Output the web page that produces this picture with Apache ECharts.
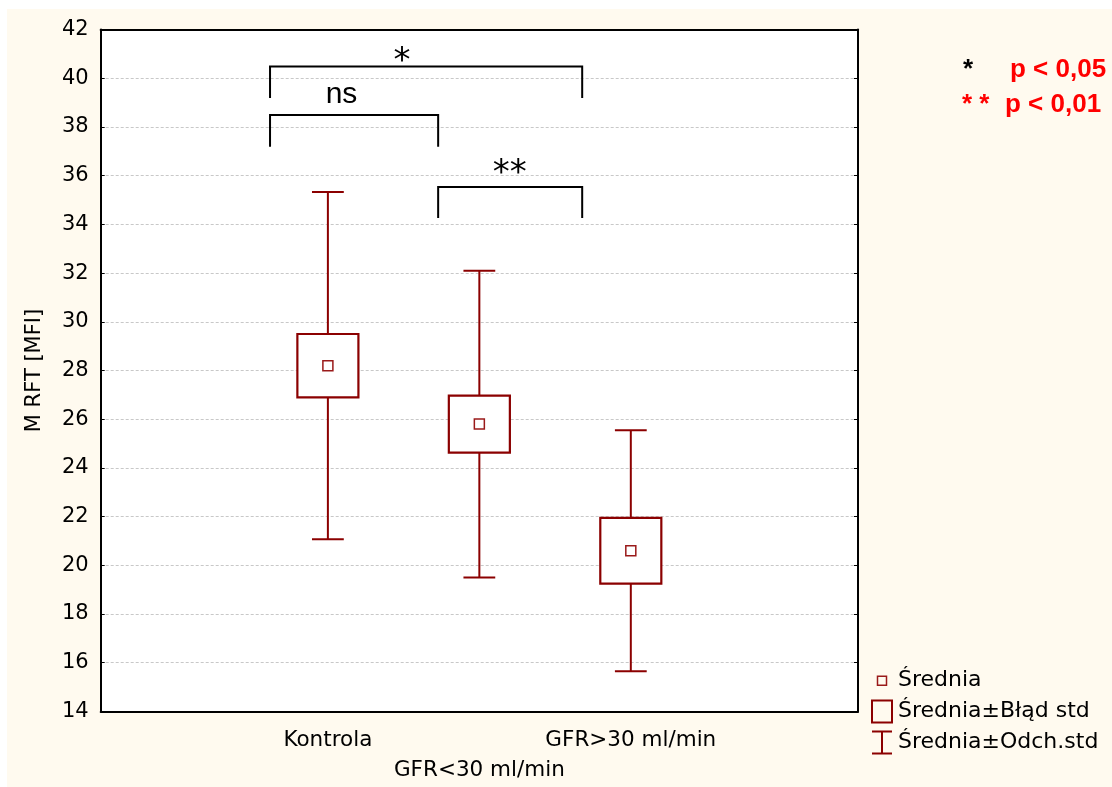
<!DOCTYPE html>
<html>
<head>
<meta charset="utf-8">
<script src="https://cdn.jsdelivr.net/npm/echarts@6/dist/echarts.min.js"></script>
<style>
  html, body { margin: 0; padding: 0; background: #ffffff; }
  #chart { position: absolute; left: 7px; top: 9px; width: 1105px; height: 778px; }
</style>
</head>
<body>
<div id="chart"></div>
<script>
// Groups on the category axis (empty slots pad both ends of the axis)
const categories = ['', 'Kontrola', 'GFR<30 ml/min', 'GFR>30 ml/min', ''];
const groupIndex = [1, 2, 3];

// M RFT [MFI]: mean, standard error and standard deviation per group
const means = [28.2, 25.8, 20.6];
const stdErrors = [1.3, 1.17, 1.35];
const stdDevs = [7.13, 6.3, 4.95];

// Value axis range and step
const yMin = 14;
const yMax = 42;
const yStep = 2;

// Significance brackets (x in category units, y in MFI)
const sigLabels = ['*', 'ns', '**'];
const sigFrom = [0.618, 0.618, 1.728];
const sigTo = [2.679, 1.728, 2.679];
const sigTop = [40.48, 38.49, 35.54];
const sigFoot = [39.19, 37.19, 34.26];
const sigLabelX = [1.49, 1.09, 2.2];
const sigLabelY = [40.67, 39.31, 36.05];

// Legend entries
const legendNames = ['Średnia', 'Średnia±Błąd std', 'Średnia±Odch.std'];

const RED = '#8b0000';
const FONT = '"DejaVu Sans", sans-serif';
const BOLD = 'bold 26px "Liberation Sans", sans-serif';

const chart = echarts.init(document.getElementById('chart'), null, { renderer: 'canvas' });

const statsData = groupIndex.map((g, i) => [g, means[i], stdErrors[i], stdDevs[i]]);
const sigData = sigLabels.map((t, i) => [sigFrom[i], sigTo[i], sigTop[i], sigFoot[i], sigLabelX[i], sigLabelY[i], i]);

// pixel x for a fractional category position
function catX(api, u) {
  const x0 = api.coord([0, yMin])[0];
  const band = api.size([1, 0])[0];
  return x0 + u * band;
}

function renderWhisker(params, api) {
  const g = api.value(0), m = api.value(1), sd = api.value(3);
  const top = api.coord([g, m + sd]);
  const bot = api.coord([g, m - sd]);
  const half = api.size([1, 0])[0] * 0.105;
  const st = { stroke: RED, lineWidth: 2, fill: null };
  return {
    type: 'group',
    children: [
      { type: 'line', shape: { x1: top[0], y1: top[1], x2: bot[0], y2: bot[1] }, style: st },
      { type: 'line', shape: { x1: top[0] - half, y1: top[1], x2: top[0] + half, y2: top[1] }, style: st },
      { type: 'line', shape: { x1: bot[0] - half, y1: bot[1], x2: bot[0] + half, y2: bot[1] }, style: st }
    ]
  };
}

function renderBox(params, api) {
  const g = api.value(0), m = api.value(1), se = api.value(2);
  const top = api.coord([g, m + se]);
  const bot = api.coord([g, m - se]);
  const w = api.size([1, 0])[0] * 0.403;
  return {
    type: 'rect',
    shape: { x: top[0] - w / 2, y: top[1], width: w, height: bot[1] - top[1] },
    style: { fill: '#ffffff', stroke: RED, lineWidth: 2.2 }
  };
}

function renderMean(params, api) {
  const p = api.coord([api.value(0), api.value(1)]);
  const s = 10;
  return {
    type: 'rect',
    shape: { x: p[0] - s / 2, y: p[1] - s / 2, width: s, height: s },
    style: { fill: '#ffffff', stroke: '#9a1a1a', lineWidth: 1.5 }
  };
}

function renderSig(params, api) {
  const a = catX(api, api.value(0));
  const b = catX(api, api.value(1));
  const yt = api.coord([0, api.value(2)])[1];
  const yf = api.coord([0, api.value(3)])[1];
  const lx = catX(api, api.value(4));
  const ly = api.coord([0, api.value(5)])[1];
  const idx = api.value(6);
  const text = sigLabels[idx];
  const isStar = text !== 'ns';
  return {
    type: 'group',
    children: [
      {
        type: 'polyline',
        shape: { points: [[a, yf], [a, yt], [b, yt], [b, yf]] },
        style: { stroke: '#000000', lineWidth: 2, fill: null }
      },
      {
        type: 'text',
        x: lx, y: ly,
        style: {
          text: text,
          fill: '#000000',
          font: isStar ? '34px "DejaVu Sans", sans-serif' : '30px "Liberation Sans", sans-serif',
          align: 'center',
          verticalAlign: 'middle'
        }
      }
    ]
  };
}

// Legend icons (outer M points pin the icon box to 22x24)
const iconMean = 'path://M0,0M22,24M6.5,7.5L15.5,7.5L15.5,16.5L6.5,16.5Z';
const iconBox = 'path://M0,0M22,24M1,1L21,1L21,23L1,23Z';
const iconWhisker = 'path://M0,0M22,24M1,1L21,1M11,1L11,23M1,23L21,23';

const option = {
  backgroundColor: '#fffaef',
  animation: false,
  grid: {
    left: 93.7, top: 20.6, right: 254, bottom: 75.6,
    show: true, backgroundColor: '#ffffff', borderWidth: 0
  },
  legend: {
    orient: 'vertical',
    left: 858, top: 654,
    itemWidth: 22, itemHeight: 24, itemGap: 5,
    textStyle: { fontFamily: FONT, fontSize: 22, color: '#000000' },
    data: [
      { name: legendNames[0], icon: iconMean, itemStyle: { color: 'rgba(0,0,0,0)', borderColor: '#9a1a1a', borderWidth: 1.5 } },
      { name: legendNames[1], icon: iconBox, itemStyle: { color: 'rgba(0,0,0,0)', borderColor: RED, borderWidth: 2 } },
      { name: legendNames[2], icon: iconWhisker, itemStyle: { color: 'rgba(0,0,0,0)', borderColor: RED, borderWidth: 2 } }
    ]
  },
  xAxis: [
    {
      type: 'category', data: categories, position: 'bottom', boundaryGap: true,
      axisLine: { lineStyle: { color: '#000000', width: 2 } },
      axisTick: { inside: true, length: 4, alignWithLabel: true, interval: 0, lineStyle: { color: '#000000', width: 1 } },
      axisLabel: {
        interval: 0, margin: 14.5, color: '#000000', fontFamily: FONT, fontSize: 21.5, lineHeight: 30,
        formatter: (v, i) => (i === 2 ? '\n' + v : v)
      },
      splitLine: { show: false }
    },
    {
      type: 'category', data: categories, position: 'top', boundaryGap: true,
      axisLine: { lineStyle: { color: '#000000', width: 2 } },
      axisTick: { inside: true, length: 4, alignWithLabel: true, interval: 0, lineStyle: { color: '#000000', width: 1 } },
      axisLabel: { show: false },
      splitLine: { show: false }
    }
  ],
  yAxis: [
    {
      type: 'value', min: yMin, max: yMax, interval: yStep, position: 'left',
      name: 'M RFT [MFI]', nameLocation: 'middle', nameGap: 56,
      nameTextStyle: { fontFamily: FONT, fontSize: 21, color: '#000000' },
      axisLine: { show: true, lineStyle: { color: '#000000', width: 2 } },
      axisTick: { show: true, inside: true, length: 4, lineStyle: { color: '#000000', width: 1 } },
      axisLabel: { margin: 12, color: '#000000', fontFamily: FONT, fontSize: 21 },
      splitLine: { show: true, lineStyle: { color: '#c8c8c8', width: 1, type: [3, 2] } }
    },
    {
      type: 'value', min: yMin, max: yMax, interval: yStep, position: 'right',
      axisLine: { show: true, lineStyle: { color: '#000000', width: 2 } },
      axisTick: { show: true, inside: true, length: 4, lineStyle: { color: '#000000', width: 1 } },
      axisLabel: { show: false },
      splitLine: { show: false }
    }
  ],
  graphic: [
    { type: 'text', left: 956, top: 47.5, style: { text: '*', font: BOLD, fill: '#000000' } },
    { type: 'text', left: 1003, top: 47.5, style: { text: 'p < 0,05', font: BOLD, fill: '#ff0000' } },
    { type: 'text', left: 955, top: 83, style: { text: '* *', font: BOLD, fill: '#ff0000' } },
    { type: 'text', left: 998, top: 83, style: { text: 'p < 0,01', font: BOLD, fill: '#ff0000' } }
  ],
  series: [
    { name: legendNames[2], type: 'custom', xAxisIndex: 0, yAxisIndex: 0, renderItem: renderWhisker, data: statsData, z: 2, itemStyle: { color: RED } },
    { name: legendNames[1], type: 'custom', xAxisIndex: 0, yAxisIndex: 0, renderItem: renderBox, data: statsData, z: 3, itemStyle: { color: RED } },
    { name: legendNames[0], type: 'custom', xAxisIndex: 0, yAxisIndex: 0, renderItem: renderMean, data: statsData, z: 4, itemStyle: { color: RED } },
    { name: 'sig', type: 'custom', xAxisIndex: 0, yAxisIndex: 0, renderItem: renderSig, data: sigData, z: 5, clip: false }
  ]
};

chart.setOption(option);
</script>
</body>
</html>
